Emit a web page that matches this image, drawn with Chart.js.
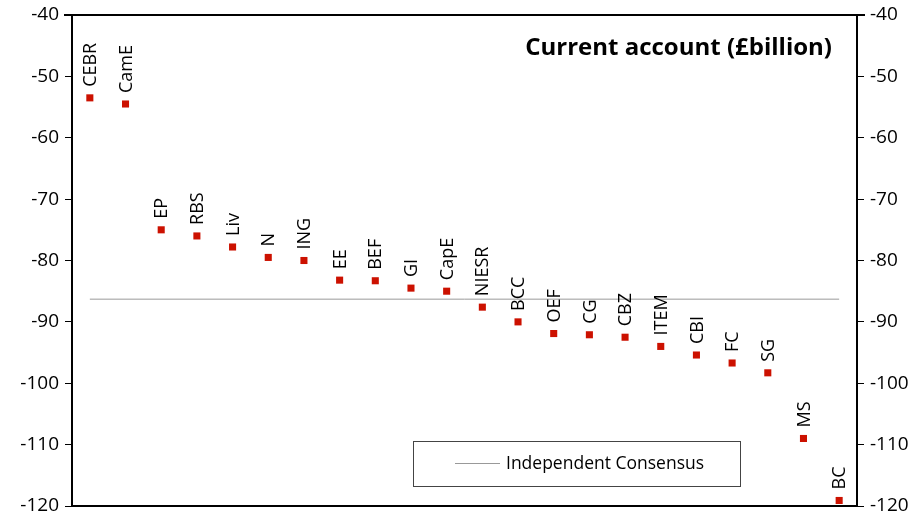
<!DOCTYPE html>
<html><head><meta charset="utf-8">
<script src="https://cdn.jsdelivr.net/npm/chart.js@4.4.0/dist/chart.umd.min.js"></script>
<style>html,body{margin:0;padding:0;background:#fff}#wrap{width:922px;height:517px}</style>
</head><body><div id="wrap"><canvas id="c" width="922" height="517"></canvas></div>
<script>
const categories = ['CEBR','CamE','EP','RBS','Liv','N','ING','EE','BEF','GI','CapE','NIESR','BCC','OEF','CG','CBZ','ITEM','CBI','FC','SG','MS','BC'];
const forecasts = [-53.5,-54.5,-75.0,-76.0,-77.8,-79.5,-80.0,-83.2,-83.3,-84.5,-85.0,-87.6,-90.0,-91.9,-92.1,-92.5,-94.0,-95.4,-96.7,-98.3,-109.0,-119.1];
const consensusValue = -86.3;
const yTicks = [-40,-50,-60,-70,-80,-90,-100,-110,-120];
const chartTitle = 'Current account (£billion)';
const consensusLabel = 'Independent Consensus';
const FONT = "'Open Sans', sans-serif";

const framePlugin = {
  id: 'frame',
  afterDatasetsDraw(chart) {
    const ctx = chart.ctx, a = chart.chartArea;
    ctx.save();
    ctx.strokeStyle = '#000'; ctx.lineWidth = 2;
    ctx.beginPath(); ctx.moveTo(a.left - 8, a.top); ctx.lineTo(a.right + 8, a.top); ctx.stroke();
    const meta = chart.getDatasetMeta(0);
    ctx.fillStyle = '#000';
    ctx.font = "18px " + FONT;
    ctx.textAlign = 'left'; ctx.textBaseline = 'middle';
    meta.data.forEach((pt, i) => {
      ctx.save();
      ctx.translate(pt.x + 1, pt.y - 11);
      ctx.rotate(-Math.PI / 2);
      ctx.fillText(categories[i], 0, 0);
      ctx.restore();
    });
    ctx.font = "bold 24px " + FONT;
    ctx.textAlign = 'right'; ctx.textBaseline = 'middle';
    ctx.fillText(chartTitle, a.right - 25, 48);
    const bx = 413, by = 441, bw = 327, bh = 45;
    ctx.strokeStyle = '#444'; ctx.lineWidth = 1;
    ctx.strokeRect(bx + 0.5, by + 0.5, bw, bh);
    ctx.strokeStyle = '#999'; ctx.lineWidth = 1;
    ctx.beginPath(); ctx.moveTo(455, by + 22.5); ctx.lineTo(500, by + 22.5); ctx.stroke();
    ctx.font = "17.5px " + FONT; ctx.textAlign = 'left'; ctx.fillStyle = '#000';
    ctx.fillText(chart.data.datasets[1].label, 506, by + 23);
    ctx.restore();
  }
};

const yScale = (pos) => ({
  type: 'linear', position: pos, min: -120, max: -40,
  afterBuildTicks(s) { s.ticks = yTicks.map(v => ({ value: v })); },
  afterFit(s) { s.width = pos === 'left' ? 72 : 65; },
  grid: { drawOnChartArea: false, drawTicks: true, tickLength: 7, color: '#000', tickWidth: 1 },
  border: { display: true, color: '#000', width: 2 },
  ticks: { color: '#000', font: { size: 19, family: FONT, lineHeight: 0.5 }, padding: 6 }
});

new Chart(document.getElementById('c'), {
  type: 'line',
  data: {
    labels: categories,
    datasets: [
      { label: 'Forecasts', data: forecasts, showLine: false, pointStyle: 'rect', pointRadius: 5,
        pointBackgroundColor: '#CC1100', pointBorderColor: '#CC1100', pointBorderWidth: 0, order: 0 },
      { label: consensusLabel, data: [{ x: categories[0], y: consensusValue }, { x: categories[categories.length - 1], y: consensusValue }],
        borderColor: '#999', borderWidth: 1, pointRadius: 0, order: 1 }
    ]
  },
  options: {
    responsive: false, animation: false, events: [],
    layout: { padding: { top: 15, bottom: 11, left: 0, right: 0 } },
    plugins: { legend: { display: false }, tooltip: { enabled: false }, title: { display: false } },
    scales: {
      x: { type: 'category', offset: true, grid: { display: false, drawTicks: false },
           afterFit(s) { s.height = 0; },
           border: { display: true, color: '#000', width: 2 }, ticks: { display: false } },
      y: yScale('left'),
      y2: yScale('right')
    }
  },
  plugins: [framePlugin]
});
</script></body></html>
